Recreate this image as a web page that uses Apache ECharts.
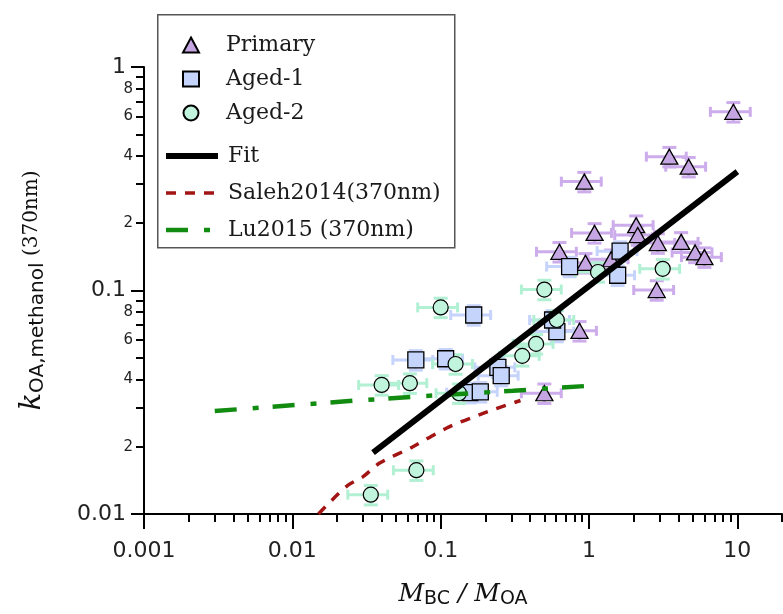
<!DOCTYPE html>
<html><head><meta charset="utf-8">
<script src="https://cdn.jsdelivr.net/npm/echarts@6/dist/echarts.min.js"></script>
<style>html,body{margin:0;padding:0;background:#fff}#c{width:783px;height:614px}</style>
</head><body><div id="c"></div>
<script>
// ---- data ----
const primaryX = [9.4, 3.48, 4.70, 0.93, 2.08, 1.09, 2.13, 2.91, 4.18, 0.632, 0.946, 1.41, 5.19, 6.0, 2.86, 0.863, 0.50];
const primaryY = [0.63, 0.397, 0.358, 0.307, 0.196, 0.181, 0.177, 0.163, 0.165, 0.149, 0.133, 0.138, 0.148, 0.141, 0.1005, 0.066, 0.0347];
const primaryXErr = [0.3, 0.3, 0.3, 0.3, 0.3, 0.3, 0.3, 0.3, 0.3, 0.3, 0.3, 0.3, 0.3, 0.3, 0.3, 0.3, 0.3];
const primaryYErr = [0.1, 0.1, 0.1, 0.1, 0.1, 0.1, 0.1, 0.1, 0.1, 0.1, 0.1, 0.1, 0.1, 0.1, 0.1, 0.1, 0.1];

const aged1X = [1.62, 0.74, 1.56, 0.607, 0.568, 0.167, 0.068, 0.108, 0.243, 0.256, 0.157, 0.185];
const aged1Y = [0.150, 0.128, 0.117, 0.0655, 0.0738, 0.0777, 0.0489, 0.0495, 0.0453, 0.0416, 0.0349, 0.0352];
const aged1XErr = [0.3, 0.3, 0.3, 0.3, 0.3, 0.3, 0.3, 0.3, 0.3, 0.3, 0.3, 0.3];
const aged1YErr = [0.1, 0.1, 0.1, 0.1, 0.1, 0.1, 0.1, 0.1, 0.1, 0.1, 0.1, 0.1];

const aged2X = [3.14, 1.15, 0.50, 0.607, 0.44, 0.100, 0.040, 0.062, 0.126, 0.355, 0.133, 0.0338, 0.0686];
const aged2Y = [0.125, 0.121, 0.101, 0.0738, 0.0577, 0.084, 0.0378, 0.0385, 0.0469, 0.051, 0.0347, 0.0122, 0.0157];
const aged2XErr = [0.3, 0.3, 0.3, 0.3, 0.3, 0.3, 0.3, 0.3, 0.3, 0.3, 0.3, 0.3, 0.3];
const aged2YErr = [0.1, 0.1, 0.1, 0.1, 0.1, 0.1, 0.1, 0.1, 0.1, 0.1, 0.1, 0.1, 0.1];

const fitX = [0.035, 10];
const fitY = [0.0188, 0.34];

const salehX = [0.015, 0.0232, 0.030, 0.0388, 0.065, 0.109, 0.193, 0.345];
const salehY = [0.0100, 0.0133, 0.0147, 0.0169, 0.020, 0.0242, 0.0282, 0.0322];

const luX = [0.003, 0.0257, 0.084, 0.307, 0.96];
const luY = [0.0289, 0.0321, 0.0338, 0.0356, 0.0374];

const xMinorTicks = [0.002,0.003,0.004,0.005,0.006,0.007,0.008,0.009,
  0.02,0.03,0.04,0.05,0.06,0.07,0.08,0.09,
  0.2,0.3,0.4,0.5,0.6,0.7,0.8,0.9,
  2,3,4,5,6,7,8,9, 20];
const yMinorTicks = [0.02,0.03,0.04,0.05,0.06,0.07,0.08,0.09, 0.2,0.3,0.4,0.5,0.6,0.7,0.8,0.9];
const yMinorLabelValues = [0.02,0.04,0.06,0.08,0.2,0.4,0.6,0.8];
const yMinorLabelTexts = ['2','4','6','8','2','4','6','8'];

const seriesNames = ['Primary','Aged-1','Aged-2','Fit','Saleh2014(370nm)','Lu2015 (370nm)'];

// ---- helpers ----
const zip2 = (a, b) => a.map((v, i) => [v, b[i]]);
const zip4 = (a, b, c, d) => a.map((v, i) => [v, b[i], c[i], d[i]]);

function errorBars(color) {
  return function (params, api) {
    const x = api.value(0), y = api.value(1), ex = api.value(2), ey = api.value(3);
    const pL = api.coord([x * (1 - ex), y]);
    const pR = api.coord([x * (1 + ex), y]);
    const pT = api.coord([x, y * (1 + ey)]);
    const pB = api.coord([x, y * (1 - ey)]);
    const st = { stroke: color, lineWidth: 3 };
    const hc = 5, vc = 7;
    return {
      type: 'group',
      children: [
        { type: 'line', shape: { x1: pL[0], y1: pL[1], x2: pR[0], y2: pR[1] }, style: st },
        { type: 'line', shape: { x1: pL[0], y1: pL[1] - hc, x2: pL[0], y2: pL[1] + hc }, style: st },
        { type: 'line', shape: { x1: pR[0], y1: pR[1] - hc, x2: pR[0], y2: pR[1] + hc }, style: st },
        { type: 'line', shape: { x1: pT[0], y1: pT[1], x2: pB[0], y2: pB[1] }, style: st },
        { type: 'line', shape: { x1: pT[0] - vc, y1: pT[1], x2: pT[0] + vc, y2: pT[1] }, style: st },
        { type: 'line', shape: { x1: pB[0] - vc, y1: pB[1], x2: pB[0] + vc, y2: pB[1] }, style: st }
      ]
    };
  };
}

const triFill = '#c6a6e2', sqFill = '#c4d4fb', ciFill = '#c0f4dc';
const triErr = '#cdaceb', sqErr = '#c6d4fc', ciErr = '#b2f0d4';
const fitColor = '#000', salehColor = '#a31414', luColor = '#118c11';
const fitLine = { color: fitColor, width: 6, type: 'solid' };
const salehLine = { color: salehColor, width: 3.5, type: [10, 9] };
const luLine = { color: luColor, width: 4.5, type: [22, 16, 6, 14] };

const tickFont = 'DejaVu Sans';
const serif = 'DejaVu Serif';

const chart = echarts.init(document.getElementById('c'), null, { renderer: 'canvas' });

const option = {
  animation: false,
  backgroundColor: '#fff',
  grid: { left: 144, right: 1, top: 67, bottom: 100, containLabel: false, outerBoundsMode: 'none' },
  xAxis: [
    {
      type: 'log', logBase: 10, min: 0.001, max: 20,
      name: '{m|M}{s|BC}{m| / M}{s|OA}',
      nameLocation: 'middle', nameGap: 65,
      nameTextStyle: {
        rich: {
          m: { fontFamily: serif, fontStyle: 'italic', fontSize: 25, color: '#111', lineHeight: 30, verticalAlign: 'middle' },
          s: { fontFamily: tickFont, fontSize: 19, color: '#111', lineHeight: 18, verticalAlign: 'bottom' }
        }
      },
      axisLine: { lineStyle: { color: '#000', width: 2 } },
      axisTick: { show: true, inside: false, length: 15, lineStyle: { color: '#000', width: 2 } },
      axisLabel: { fontFamily: tickFont, fontSize: 22, color: '#222', margin: 26, showMaxLabel: false,
        formatter: v => String(v) },
      splitLine: { show: false }
    },
    {
      type: 'log', logBase: 10, min: 0.001, max: 20, position: 'bottom',
      axisLine: { show: false },
      axisTick: { show: true, inside: false, length: 8, customValues: xMinorTicks, lineStyle: { color: '#000', width: 2 } },
      axisLabel: { show: false },
      splitLine: { show: false }
    }
  ],
  yAxis: [
    {
      type: 'log', logBase: 10, min: 0.01, max: 1,
      name: '{k|k}{s|OA,methanol}{n| (370nm)}',
      nameLocation: 'middle', nameGap: 96, nameRotate: 90,
      nameTextStyle: {
        rich: {
          k: { fontFamily: serif, fontStyle: 'italic', fontSize: 29, color: '#111', lineHeight: 32, verticalAlign: 'middle' },
          s: { fontFamily: tickFont, fontSize: 20, color: '#111', lineHeight: 18, verticalAlign: 'bottom' },
          n: { fontFamily: serif, fontSize: 20, color: '#111', lineHeight: 32, verticalAlign: 'middle' }
        }
      },
      axisLine: { lineStyle: { color: '#000', width: 2 } },
      axisTick: { show: true, inside: false, length: 13, lineStyle: { color: '#000', width: 2 } },
      axisLabel: { fontFamily: tickFont, fontSize: 22, color: '#222', margin: 18, formatter: v => String(v) },
      splitLine: { show: false }
    },
    {
      type: 'log', logBase: 10, min: 0.01, max: 1, position: 'left',
      axisLine: { show: false },
      axisTick: { show: true, inside: false, length: 8, customValues: yMinorTicks, lineStyle: { color: '#000', width: 2 } },
      axisLabel: { show: true, customValues: yMinorLabelValues, fontFamily: tickFont, fontSize: 15, color: '#222', margin: 11,
        formatter: (v) => {
          const i = yMinorLabelValues.findIndex(u => Math.abs(u - v) / u < 1e-6);
          return i >= 0 ? yMinorLabelTexts[i] : '';
        } },
      splitLine: { show: false }
    }
  ],
  legend: [
    {
      data: seriesNames.slice(0, 3),
      orient: 'vertical', left: 182, top: 34, padding: 0,
      itemWidth: 16, itemHeight: 15, itemGap: 12,
      textStyle: { fontFamily: serif, fontSize: 22, color: '#1a1a1a', padding: [0, 0, 0, 22] },
      selectedMode: false
    },
    {
      data: [
        { name: seriesNames[3], lineStyle: fitLine },
        { name: seriesNames[4], lineStyle: salehLine },
        { name: seriesNames[5], lineStyle: luLine }
      ],
      orient: 'vertical', left: 163, top: 145, padding: 0,
      itemWidth: 52, itemHeight: 15, itemGap: 15,
      itemStyle: { opacity: 0 },
      textStyle: { fontFamily: serif, fontSize: 22, color: '#1a1a1a', padding: [0, 0, 0, 5] },
      selectedMode: false
    }
  ],
  graphic: [
    { type: 'rect', left: 157, top: 14, shape: { width: 297, height: 233 },
      style: { fill: 'rgba(0,0,0,0)', stroke: '#555', lineWidth: 1.5 }, z: 1, silent: true }
  ],
  series: [
    { type: 'custom', name: 'errP', renderItem: errorBars(triErr), data: zip4(primaryX, primaryY, primaryXErr, primaryYErr), z: 1, silent: true, clip: false },
    { type: 'custom', name: 'errA1', renderItem: errorBars(sqErr), data: zip4(aged1X, aged1Y, aged1XErr, aged1YErr), z: 1, silent: true, clip: false },
    { type: 'custom', name: 'errA2', renderItem: errorBars(ciErr), data: zip4(aged2X, aged2Y, aged2XErr, aged2YErr), z: 1, silent: true, clip: false },
    { type: 'scatter', name: seriesNames[0], data: zip2(primaryX, primaryY), symbol: 'triangle', symbolSize: [17, 15],
      itemStyle: { color: triFill, borderColor: '#000', borderWidth: 1.3, opacity: 1 }, z: 2 },
    { type: 'scatter', name: seriesNames[1], data: zip2(aged1X, aged1Y), symbol: 'rect', symbolSize: 16,
      itemStyle: { color: sqFill, borderColor: '#000', borderWidth: 1.3, opacity: 1 }, z: 2 },
    { type: 'scatter', name: seriesNames[2], data: zip2(aged2X, aged2Y), symbol: 'circle', symbolSize: 15,
      itemStyle: { color: ciFill, borderColor: '#000', borderWidth: 1.2, opacity: 1 }, z: 2 },
    { type: 'line', name: seriesNames[3], data: zip2(fitX, fitY), symbol: 'none', showSymbol: false,
      lineStyle: fitLine, itemStyle: { color: fitColor }, z: 4 },
    { type: 'line', name: seriesNames[4], data: zip2(salehX, salehY), symbol: 'none', showSymbol: false, smooth: 0.3,
      lineStyle: salehLine, itemStyle: { color: salehColor }, z: 3 },
    { type: 'line', name: seriesNames[5], data: zip2(luX, luY), symbol: 'none', showSymbol: false,
      lineStyle: luLine, itemStyle: { color: luColor }, z: 3 }
  ]
};
chart.setOption(option);
</script>
</body></html>
